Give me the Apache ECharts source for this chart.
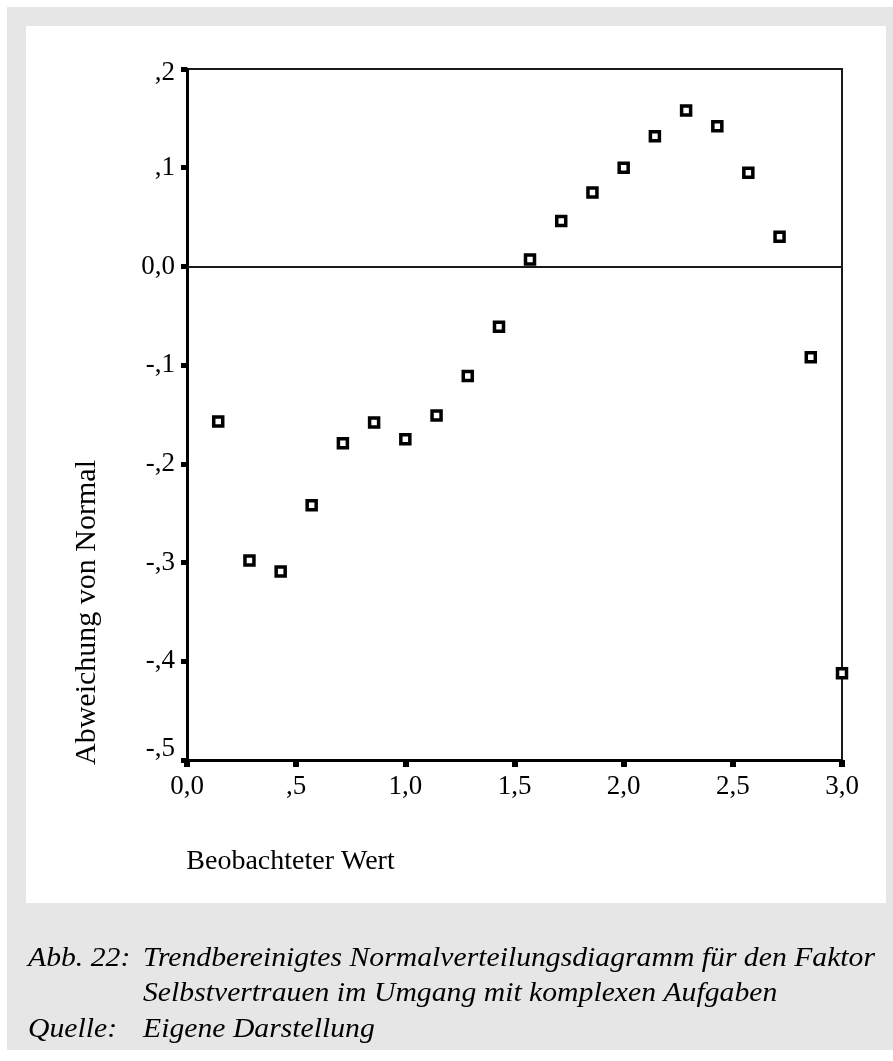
<!DOCTYPE html>
<html>
<head>
<meta charset="utf-8">
<script src="https://cdn.jsdelivr.net/npm/echarts@6/dist/echarts.min.js"></script>
<style>
  html, body { margin: 0; padding: 0; background: #ffffff; }
  #wrap { position: relative; width: 893px; height: 1061px; overflow: hidden; }
  #grey { position: absolute; left: 7px; top: 7px; width: 886px; height: 1043px; background: #e6e6e6; }
  #panel { position: absolute; left: 26px; top: 26px; width: 860px; height: 877px; background: #ffffff; }
  #chart { position: absolute; left: 0; top: 0; width: 893px; height: 1061px; }
</style>
</head>
<body>
<div id="wrap">
  <div id="grey"></div>
  <div id="panel"></div>
  <div id="chart"></div>
</div>
<script>
// ---- data ----
const observedValues = [0.143, 0.286, 0.429, 0.571, 0.714, 0.857, 1.0, 1.143, 1.286, 1.429, 1.571,
                        1.714, 1.857, 2.0, 2.143, 2.286, 2.429, 2.571, 2.714, 2.857, 3.0];
const deviations = [-0.157, -0.298, -0.309, -0.242, -0.179, -0.158, -0.175, -0.151, -0.111, -0.061, 0.007,
                    0.046, 0.075, 0.100, 0.132, 0.158, 0.142, 0.095, 0.030, -0.092, -0.412];
const xAxisTitle = 'Beobachteter Wert';
const yAxisTitle = 'Abweichung von Normal';
const captionLabels = ['Abb. 22:', 'Quelle:'];
const captionLines = ['Trendbereinigtes Normalverteilungsdiagramm für den Faktor',
                      'Selbstvertrauen im Umgang mit komplexen Aufgaben',
                      'Eigene Darstellung'];

const serif = "'Liberation Serif', 'Times New Roman', 'DejaVu Serif', serif";

function fmt(v) {
  const r = Math.round(v * 10) / 10;
  if (r === 0) return '0,0';
  const s = r < 0 ? '-' : '';
  const a = Math.abs(r);
  const i = Math.floor(a + 1e-9);
  const f = Math.round((a - i) * 10);
  return s + (i === 0 ? '' : String(i)) + ',' + f;
}
function fmtY(v) {
  const t = fmt(v);
  const k = Math.round(v * 10);
  if (k === -5) return '{lo|' + t + '}';
  if (k === 2) return '{hi|' + t + '}';
  return t;
}

const points = observedValues.map((x, i) => [x, deviations[i]]);

const capFont = 'italic 27px ' + serif;
const capStretch = 1.1;
const tickFont = { fontFamily: serif, fontSize: 27, color: '#000' };

const chart = echarts.init(document.getElementById('chart'), null, { renderer: 'canvas' });
chart.setOption({
  animation: false,
  backgroundColor: 'transparent',
  grid: {
    left: 187, right: 51, top: 69, bottom: 301,
    show: true, borderColor: '#1a1a1a', borderWidth: 2, backgroundColor: 'transparent',
    containLabel: false, outerBoundsMode: 'none'
  },
  xAxis: {
    type: 'value', min: 0, max: 3, interval: 0.5,
    name: xAxisTitle, nameLocation: 'middle', nameGap: 88,
    nameTextStyle: { fontFamily: serif, fontSize: 28, color: '#000', padding: [0, 448, 0, 0] },
    axisLine: { show: true, onZero: false, lineStyle: { color: '#000', width: 3 } },
    axisTick: { show: true, length: 7, lineStyle: { color: '#000', width: 6 } },
    axisLabel: Object.assign({ formatter: fmt, margin: 13 }, tickFont),
    splitLine: { show: false }
  },
  yAxis: {
    type: 'value', min: -0.5, max: 0.2, interval: 0.1,
    name: yAxisTitle, nameLocation: 'middle', nameGap: 85,
    nameTextStyle: { fontFamily: serif, fontSize: 30, color: '#000', padding: [0, 396, 0, 0] },
    axisLine: { show: true, onZero: false, lineStyle: { color: '#000', width: 3 } },
    axisTick: { show: true, length: 6, lineStyle: { color: '#000', width: 5 } },
    axisLabel: Object.assign({
      formatter: fmtY, margin: 12,
      rich: {
        lo: Object.assign({ padding: [0, 0, 22, 0] }, tickFont),
        hi: Object.assign({ padding: [8, 0, 0, 0] }, tickFont)
      }
    }, tickFont),
    splitLine: { show: false }
  },
  series: [{
    type: 'scatter',
    data: points,
    symbol: 'rect',
    symbolSize: 9,
    itemStyle: { color: '#ffffff', borderColor: '#000000', borderWidth: 3.5, opacity: 1 },
    markLine: {
      silent: true, symbol: 'none', animation: false,
      label: { show: false },
      lineStyle: { color: '#1a1a1a', width: 2, type: 'solid' },
      data: [{ yAxis: 0 }]
    },
    z: 5
  }],
  graphic: {
    elements: [
      { type: 'text', left: 28, top: 945, scaleX: capStretch, style: { text: captionLabels[0], font: capFont, fill: '#000' } },
      { type: 'text', left: 143, top: 945, scaleX: capStretch, style: { text: captionLines[0], font: capFont, fill: '#000' } },
      { type: 'text', left: 143, top: 980, scaleX: capStretch, style: { text: captionLines[1], font: capFont, fill: '#000' } },
      { type: 'text', left: 28, top: 1016, scaleX: capStretch, style: { text: captionLabels[1], font: capFont, fill: '#000' } },
      { type: 'text', left: 143, top: 1016, scaleX: capStretch, style: { text: captionLines[2], font: capFont, fill: '#000' } }
    ]
  }
});
</script>
</body>
</html>
